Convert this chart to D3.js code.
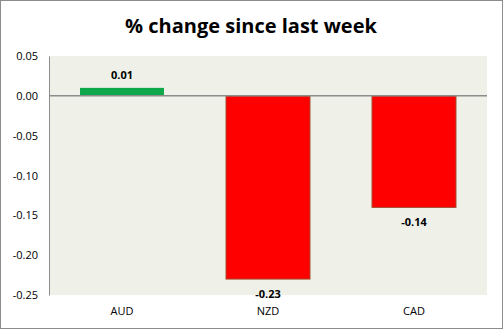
<!DOCTYPE html>
<html>
<head>
<meta charset="utf-8">
<script src="https://cdn.jsdelivr.net/npm/d3@7"></script>
<style>
  html, body { margin: 0; padding: 0; background: #fff; }
  svg { display: block; font-family: "Open Sans", "Noto Sans", sans-serif; }
</style>
</head>
<body>
<svg id="chart" width="503" height="329"></svg>
<script>
// Weekly % change per currency
const currencies = ["AUD", "NZD", "CAD"];
const changes = [0.01, -0.23, -0.14];
const yTicks = [0.05, 0.00, -0.05, -0.10, -0.15, -0.20, -0.25];
const title = "% change since last week";

const svg = d3.select("#chart");
const W = 503, H = 329;
const plot = { left: 49, right: 487, top: 56, bottom: 295 };

// outer frame
svg.append("rect")
  .attr("x", 0.5).attr("y", 0.5)
  .attr("width", W - 1).attr("height", H - 1)
  .attr("fill", "#fff").attr("stroke", "#8c8c8c");

// title
svg.append("text")
  .attr("x", 251).attr("y", 33)
  .attr("text-anchor", "middle")
  .attr("font-size", 20).attr("font-weight", "bold")
  .attr("fill", "#000")
  .text(title);

const x = d3.scaleBand()
  .domain(currencies)
  .range([plot.left, plot.right])
  .paddingInner(0.425)
  .paddingOuter(0.2125);

const y = d3.scaleLinear()
  .domain([-0.25, 0.05])
  .range([plot.bottom, plot.top]);

// plot background
svg.append("rect")
  .attr("x", plot.left).attr("y", plot.top)
  .attr("width", plot.right - plot.left)
  .attr("height", plot.bottom - plot.top)
  .attr("fill", "#eff1e8");

// y axis
const yAxis = d3.axisLeft(y)
  .tickValues(yTicks)
  .tickFormat(d3.format(".2f"))
  .tickSize(0)
  .tickPadding(11);
const gy = svg.append("g")
  .attr("transform", `translate(${plot.left},0)`)
  .call(yAxis);
gy.select(".domain").attr("stroke", "#8c8c8c");
gy.selectAll("text")
  .attr("font-size", 11)
  .attr("fill", "#000")
  .attr("font-family", "'Open Sans', 'Noto Sans', sans-serif")
  .text(d => d3.format(".2f")(d).replace("−", "-"));

// bars
svg.append("g").selectAll("rect")
  .data(currencies)
  .join("rect")
  .attr("x", d => x(d))
  .attr("width", x.bandwidth())
  .attr("y", (d, i) => y(Math.max(0, changes[i])))
  .attr("height", (d, i) => Math.abs(y(changes[i]) - y(0)))
  .attr("fill", (d, i) => changes[i] >= 0 ? "#0ea84a" : "#ff0000")
  .attr("stroke", (d, i) => changes[i] >= 0 ? "none" : "#a0482a")
  .attr("stroke-width", 1);

// zero line
svg.append("line")
  .attr("x1", plot.left).attr("x2", plot.right)
  .attr("y1", y(0)).attr("y2", y(0))
  .attr("stroke", "#8c8c8c").attr("stroke-width", 1.5);

// value labels
svg.append("g").selectAll("text")
  .data(currencies)
  .join("text")
  .attr("x", d => x(d) + x.bandwidth() / 2)
  .attr("y", (d, i) => changes[i] >= 0 ? y(changes[i]) - 9 : y(changes[i]) + 19)
  .attr("text-anchor", "middle")
  .attr("font-size", 11).attr("font-weight", "bold")
  .attr("fill", "#000")
  .text((d, i) => d3.format(".2f")(changes[i]).replace("−", "-"));

// x axis labels
const xAxis = d3.axisBottom(x).tickSize(0).tickPadding(12);
const gx = svg.append("g")
  .attr("transform", `translate(0,${plot.bottom})`)
  .call(xAxis);
gx.select(".domain").remove();
gx.selectAll("text")
  .attr("font-size", 11)
  .attr("fill", "#000")
  .attr("font-family", "'Open Sans', 'Noto Sans', sans-serif");
</script>
</body>
</html>
